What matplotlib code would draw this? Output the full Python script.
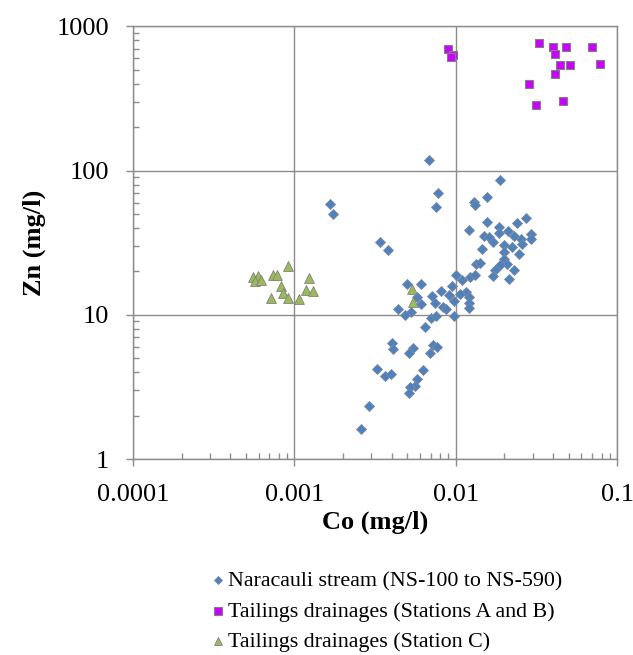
import numpy as np
import matplotlib
matplotlib.use("Agg")
from matplotlib import pyplot as plt
from matplotlib.ticker import LogLocator, NullFormatter, FixedFormatter, FixedLocator

plt.rcParams['font.family'] = ['Liberation Serif', 'DejaVu Serif']

# Naracauli stream (NS-100 to NS-590)
stream_co = [0.00687, 0.00166, 0.00173, 0.00774, 0.00753, 0.0188, 0.0129, 0.0131, 0.0157,
             0.00340, 0.00383, 0.0120, 0.0157, 0.0185, 0.0241, 0.0273, 0.0149, 0.0160,
             0.0171, 0.0186, 0.0211, 0.0231, 0.0253, 0.0293, 0.0293, 0.0198, 0.0223,
             0.0257, 0.0146, 0.0200, 0.0245, 0.0134, 0.0142, 0.0200, 0.0207, 0.0188,
             0.0175, 0.0228, 0.0171, 0.0215, 0.0100, 0.0110, 0.0122, 0.0132, 0.00946,
             0.0116, 0.0106, 0.0120, 0.0121, 0.0121, 0.00809, 0.00910, 0.00982, 0.00839,
             0.00868, 0.00977, 0.00608, 0.00502, 0.00579, 0.00610, 0.00714, 0.00742,
             0.00438, 0.00527, 0.00486, 0.00704, 0.00755, 0.00649, 0.00402, 0.00411,
             0.00547, 0.00516, 0.00727, 0.00770, 0.00694, 0.00324, 0.00365, 0.00396,
             0.00625, 0.00579, 0.00560, 0.00521, 0.00516, 0.00290, 0.00257]
stream_zn = [119, 58.5, 49.9, 69.4, 56.0, 85.8, 60.1, 57.3, 65.1,
             32.1, 28.1, 38.6, 43.7, 40.7, 43.0, 47.0, 35.3, 34.7,
             32.1, 37.0, 38.0, 35.3, 33.5, 36.6, 33.8, 30.4, 29.6,
             31.2, 28.4, 27.2, 26.6, 22.5, 22.9, 24.3, 22.5, 22.1,
             20.4, 20.4, 18.6, 17.6, 18.8, 17.4, 18.3, 18.9, 15.8,
             14.4, 13.9, 13.2, 12.0, 11.1, 14.7, 13.7, 12.5, 11.3,
             10.9, 9.80, 16.3, 16.3, 13.2, 11.9, 13.4, 12.0,
             11.0, 10.4, 9.91, 9.53, 9.84, 8.18, 6.40, 5.76,
             5.91, 5.40, 6.17, 5.94, 5.40, 4.20, 3.76, 3.86,
             4.14, 3.58, 3.22, 3.14, 2.88, 2.34, 1.62]

# Tailings drainages (Stations A and B)
ab_co = [0.00889, 0.00960, 0.00936, 0.0330, 0.0403, 0.0483, 0.0701, 0.0411,
         0.0440, 0.0512, 0.0778, 0.0411, 0.0286, 0.0459, 0.0315]
ab_zn = [694, 634, 608, 767, 713, 713, 720, 641,
         537, 537, 543, 466, 397, 301, 283]

# Tailings drainages (Station C)
c_co = [0.00091, 0.000557, 0.000598, 0.000570, 0.000619, 0.000735, 0.000778, 0.000824,
        0.000847, 0.000918, 0.000714, 0.00107, 0.00118, 0.00124, 0.00130, 0.00535, 0.00547]
c_zn = [21.8, 18.3, 18.5, 17.2, 17.4, 18.8, 18.8, 15.8,
        14.1, 13.0, 13.1, 12.8, 14.8, 17.9, 14.6, 15.1, 12.2]

labels = ['Naracauli stream (NS-100 to NS-590)',
          'Tailings drainages (Stations A and B)',
          'Tailings drainages (Station C)']

fig = plt.figure(figsize=(6.33, 6.55), dpi=100)
ax = fig.add_axes([0.210, 0.299, 0.765, 0.661])

grey = '#8c8c8c'
ax.scatter(stream_co, stream_zn, marker='D', s=26, c='#4F81BD', edgecolors='#7a8aa0',
           linewidths=0.6, zorder=3, label=labels[0])
ax.scatter(ab_co, ab_zn, marker='s', s=40, c='#CC00FF', edgecolors='#808080',
           linewidths=0.8, zorder=3, label=labels[1])
ax.scatter(c_co, c_zn, marker='^', s=50, c='#9BBB59', edgecolors='#808080',
           linewidths=0.6, zorder=3, label=labels[2])

ax.set_xscale('log')
ax.set_yscale('log')
ax.set_xlim(0.0001, 0.1)
ax.set_ylim(1, 1000)

xt = [0.0001, 0.001, 0.01, 0.1]
yt = [1, 10, 100, 1000]
ax.xaxis.set_major_locator(FixedLocator(xt))
ax.xaxis.set_major_formatter(FixedFormatter(['0.0001', '0.001', '0.01', '0.1']))
ax.yaxis.set_major_locator(FixedLocator(yt))
ax.yaxis.set_major_formatter(FixedFormatter(['1', '10', '100', '1000']))
ax.xaxis.set_minor_locator(LogLocator(base=10, subs=np.arange(2, 10)))
ax.yaxis.set_minor_locator(LogLocator(base=10, subs=np.arange(2, 10)))
ax.xaxis.set_minor_formatter(NullFormatter())
ax.yaxis.set_minor_formatter(NullFormatter())

ax.tick_params(which='major', direction='out', length=5, width=1, color=grey,
               labelsize=19)
ax.tick_params(which='minor', direction='in', length=4, width=1, color=grey)
ax.tick_params(axis='x', which='major', pad=13)
ax.tick_params(axis='y', which='major', pad=12)

ax.grid(True, which='major', color=grey, linewidth=1)
for s in ax.spines.values():
    s.set_color(grey)
    s.set_linewidth(1)

ax.set_xlabel('Co (mg/l)', fontsize=19, fontweight='bold', labelpad=3)
ax.set_ylabel('Zn (mg/l)', fontsize=19, fontweight='bold', labelpad=8)

leg = fig.legend(loc='upper left', bbox_to_anchor=(0.317, 0.142), frameon=False,
                 fontsize=15.8, handletextpad=0.05, labelspacing=0.46, markerscale=0.8,
                 handlelength=0.8, borderaxespad=0)

fig.savefig('out.png', dpi=100)
